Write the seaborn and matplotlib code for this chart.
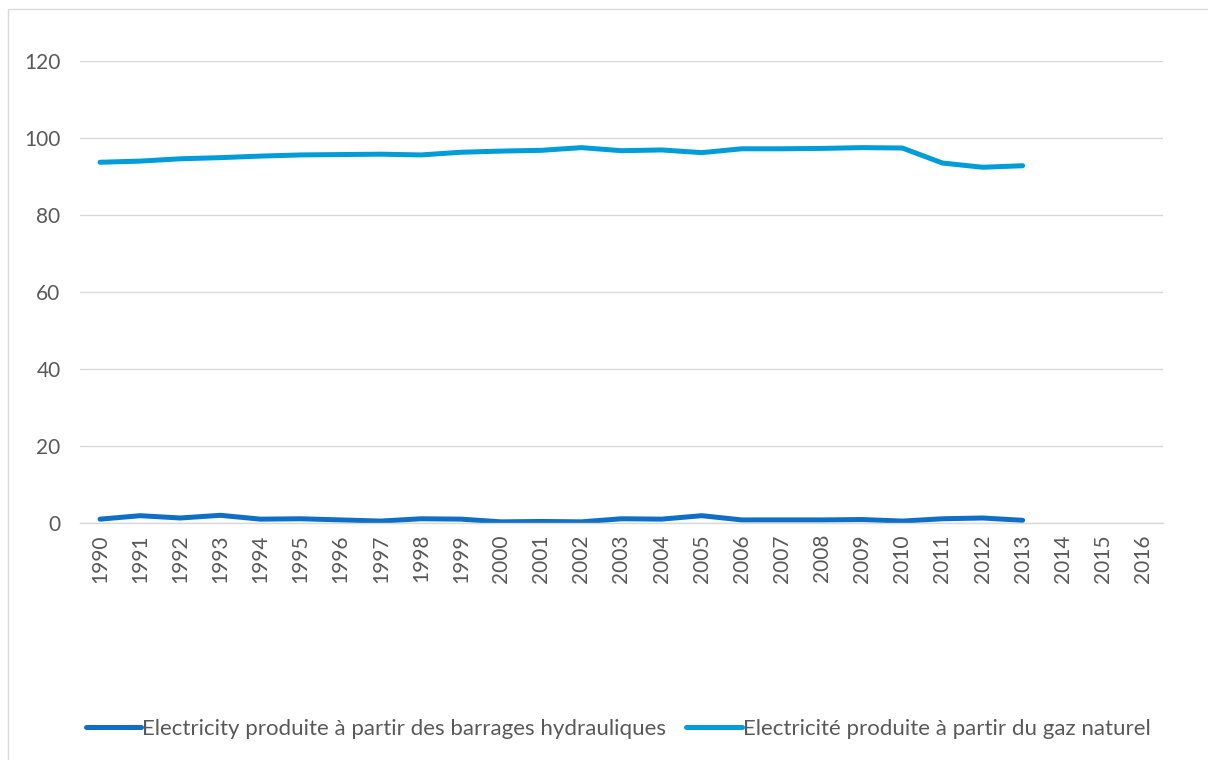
import matplotlib
matplotlib.use("Agg")
import matplotlib.pyplot as plt
import seaborn as sns
import pandas as pd
import numpy as np
from matplotlib.patches import Rectangle

years = list(range(1990, 2017))
hydro_years = list(range(1990, 2014))
hydro = [1.0, 1.9, 1.3, 2.0, 1.0, 1.1, 0.8, 0.5, 1.1, 1.0, 0.3, 0.4, 0.3,
         1.1, 1.0, 1.9, 0.8, 0.8, 0.8, 0.9, 0.5, 1.1, 1.3, 0.7]
gas = [93.7, 94.0, 94.6, 94.9, 95.3, 95.6, 95.7, 95.8, 95.6, 96.3, 96.6, 96.8,
       97.5, 96.7, 96.9, 96.2, 97.2, 97.2, 97.3, 97.5, 97.4, 93.5, 92.4, 92.8]
series_names = ["Electricity produite à partir des barrages hydrauliques",
                "Electricité produite à partir du gaz naturel"]
colors = ["#0F6FC6", "#009DD9"]
yticks = [0, 20, 40, 60, 80, 100, 120]

df = pd.DataFrame({
    "year": hydro_years * 2,
    "value": hydro + gas,
    "series": [series_names[0]] * len(hydro) + [series_names[1]] * len(gas),
})

sns.set_style("white")
plt.rcParams["font.family"] = ["Lato", "DejaVu Sans"]

fig = plt.figure(figsize=(12.08, 7.6), dpi=100)
ax = fig.add_axes([80 / 1208, 1 - 523 / 760, (1163 - 80) / 1208, (523 - 61) / 760])

sns.lineplot(data=df, x="year", y="value", hue="series", palette=colors,
             hue_order=series_names, linewidth=3.6, ax=ax, legend=True,
             solid_capstyle="round")

ax.set_xlim(1989.5, 2016.5)
ax.set_ylim(0, 120)
ax.set_xticks(years)
ax.set_xticklabels([str(y) for y in years], rotation=90)
ax.set_yticks(yticks)
ax.set_yticklabels([str(v) for v in yticks])
ax.tick_params(axis="both", colors="#595959", labelsize=15, length=0, pad=8)
ax.tick_params(axis="y", pad=14)
ax.grid(axis="y", color="#D9D9D9", linewidth=1.0)
ax.grid(axis="x", visible=False)
for s in ["top", "right", "left"]:
    ax.spines[s].set_visible(False)
ax.spines["bottom"].set_color("#D9D9D9")
ax.spines["bottom"].set_linewidth(1.0)
ax.set_xlabel("")
ax.set_ylabel("")
ax.set_axisbelow(True)

handles, labels = ax.get_legend_handles_labels()
ax.legend(handles, labels, loc="center", bbox_to_anchor=(0.497, -0.445),
          ncol=2, frameon=False, fontsize=16, handlelength=2.5,
          handletextpad=0.05, columnspacing=0.9, labelcolor="#595959")

fig.patches.append(Rectangle((8 / 1208, -0.05), 1.1, 1 - 9 / 760 + 0.05,
                             transform=fig.transFigure, fill=False,
                             edgecolor="#D9D9D9", linewidth=1.0))

fig.savefig("out.png", dpi=100)
